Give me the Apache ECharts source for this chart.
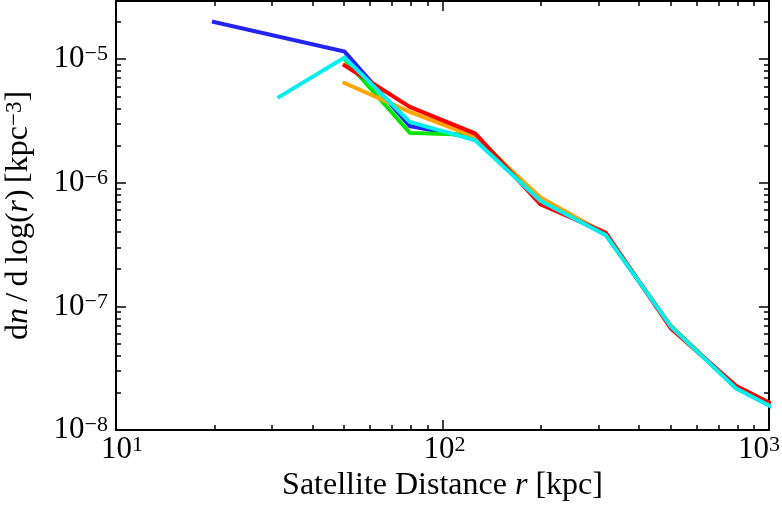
<!DOCTYPE html>
<html>
<head>
<meta charset="utf-8">
<script src="https://cdn.jsdelivr.net/npm/echarts@6/dist/echarts.min.js"></script>
<style>html,body{margin:0;padding:0;background:#fff}#c{width:782px;height:508px}</style>
</head>
<body>
<div id="c"></div>
<script>
// ---- data ----
const rBins = [19.95, 31.62, 50.12, 79.43, 125.9, 199.5, 316.2, 501.2, 794.3, 1259];
const blueVals   = [2.0e-5, null,    1.15e-5, 2.87e-6, 2.30e-6, 7.2e-7,  3.80e-7, 6.9e-8,  2.18e-8, 1.16e-8];
const greenVals  = [null,   null,    1.0e-5,  2.53e-6, 2.43e-6, 7.3e-7,  3.80e-7, 6.9e-8,  2.18e-8, 1.17e-8];
const orangeVals = [null,   null,    6.4e-6,  3.74e-6, 2.35e-6, 7.6e-7,  3.85e-7, 6.9e-8,  2.18e-8, 1.17e-8];
const redVals    = [null,   null,    8.9e-6,  4.10e-6, 2.50e-6, 6.7e-7,  3.95e-7, 6.6e-8,  2.27e-8, 1.23e-8];
const cyanVals   = [null,   4.95e-6, 1.03e-5, 3.10e-6, 2.20e-6, 7.15e-7, 3.78e-7, 6.85e-8, 2.16e-8, 1.15e-8];
const xMajorTicks = [10, 100, 1000];
const xMinorTicks = [20,30,40,50,60,70,80,90,200,300,400,500,600,700,800,900];
const yMajorTicks = [1e-8, 1e-7, 1e-6, 1e-5];
const yMinorTicks = [2e-8,3e-8,4e-8,5e-8,6e-8,7e-8,8e-8,9e-8,
                     2e-7,3e-7,4e-7,5e-7,6e-7,7e-7,8e-7,9e-7,
                     2e-6,3e-6,4e-6,5e-6,6e-6,7e-6,8e-6,9e-6,2e-5];
const xLabel = 'Satellite Distance r [kpc]';
const yLabel = 'dn / d log(r) [kpc−3]';

// ---- build ----
const FONT = 'Liberation Serif';
const pairs = vals => rBins.map((x, i) => vals[i] == null ? null : [x, vals[i]]).filter(p => p);
function expStr(v) {
  const e = Math.round(Math.log10(v));
  return e < 0 ? '\u2212' + (-e) : String(e);
}
function yTickLabel(v) { return '{b|10}{s|' + expStr(v) + '}'; }
function xTickLabel(v) {
  const e = Math.round(Math.log10(v));
  const core = '{b|10}{s|' + expStr(v) + '}';
  if (e === 1) return '{gl|\u00a0}' + core;
  if (e === 2) return '{gm|\u00a0}' + core;
  if (e === 3) return core + '{gr|\u00a0}';
  return core;
}
const richTick = {
  b: {fontFamily: FONT, fontSize: 31, color: '#000'},
  s: {fontFamily: FONT, fontSize: 22, color: '#000', verticalAlign: 'top', padding: [0, 0, 8, 0]},
  gl: {fontFamily: FONT, fontSize: 10, width: 12},
  gm: {fontFamily: FONT, fontSize: 10, width: 4},
  gr: {fontFamily: FONT, fontSize: 10, width: 20}
};
const X_MIN = 10, X_MAX = 1000, Y_MIN = 1e-8, Y_MAX = 2.95e-5;
function mkAxis(dim, pos, major, showLabel, ticks) {
  const a = {
    type: 'log', logBase: 10, position: pos,
    min: dim === 'x' ? X_MIN : Y_MIN, max: dim === 'x' ? X_MAX : Y_MAX,
    splitLine: {show: false},
    axisLine: {show: major, lineStyle: {color: '#000', width: 2}},
    axisTick: {show: true, inside: true, length: major ? 10 : 5, customValues: ticks,
               lineStyle: {color: '#000', width: 1.5}},
    axisLabel: {show: showLabel}
  };
  if (showLabel) {
    a.axisLabel = {show: true, customValues: ticks,
                   formatter: dim === 'x' ? xTickLabel : yTickLabel, rich: richTick,
                   margin: dim === 'x' ? 4 : 8, showMinLabel: true, showMaxLabel: true,
                   hideOverlap: false};
  }
  return a;
}
const xAxes = [
  mkAxis('x', 'bottom', true, true, xMajorTicks),
  mkAxis('x', 'bottom', false, false, xMinorTicks),
  mkAxis('x', 'top', true, false, xMajorTicks),
  mkAxis('x', 'top', false, false, xMinorTicks)
];
xAxes[0].name = '{t|Satellite Distance }{i|r}{t| [kpc]}';
xAxes[0].nameLocation = 'middle';
xAxes[0].nameGap = 35;
xAxes[0].nameTextStyle = {rich: {
  t: {fontFamily: FONT, fontSize: 32, color: '#000'},
  i: {fontFamily: FONT, fontSize: 32, fontStyle: 'italic', color: '#000'}
}};
const yAxes = [
  mkAxis('y', 'left', true, true, yMajorTicks),
  mkAxis('y', 'left', false, false, yMinorTicks),
  mkAxis('y', 'right', true, false, yMajorTicks),
  mkAxis('y', 'right', false, false, yMinorTicks)
];
yAxes[0].name = '{t|d}{i|n}{t|\u2009/\u2009d\u2009log(}{i|r}{t|)\u2009[kpc}{s|\u22123}{t|]}';
yAxes[0].nameLocation = 'middle';
yAxes[0].nameGap = 81;
yAxes[0].nameTextStyle = {rich: {
  t: {fontFamily: FONT, fontSize: 32, color: '#000'},
  i: {fontFamily: FONT, fontSize: 32, fontStyle: 'italic', color: '#000'},
  s: {fontFamily: FONT, fontSize: 23, color: '#000', verticalAlign: 'top', padding: [0, 0, 8, 0]}
}};

const mkSeries = (name, vals, color) => ({
  name, type: 'line', data: pairs(vals), xAxisIndex: 0, yAxisIndex: 0,
  showSymbol: false, symbol: 'none', clip: true, animation: false,
  lineStyle: {color, width: 4, cap: 'square', join: 'miter'}
});

const chart = echarts.init(document.getElementById('c'), null, {renderer: 'canvas'});
chart.setOption({
  backgroundColor: '#fff',
  animation: false,
  grid: {left: 116, right: 13, top: 1, bottom: 78, containLabel: false, outerBoundsMode: 'none'},
  xAxis: xAxes,
  yAxis: yAxes,
  series: [
    mkSeries('blue', blueVals, '#2424f2'),
    mkSeries('green', greenVals, '#00e600'),
    mkSeries('orange', orangeVals, '#ffa500'),
    mkSeries('red', redVals, '#ff0000'),
    mkSeries('cyan', cyanVals, '#00f0f0')
  ]
});
</script>
</body>
</html>
